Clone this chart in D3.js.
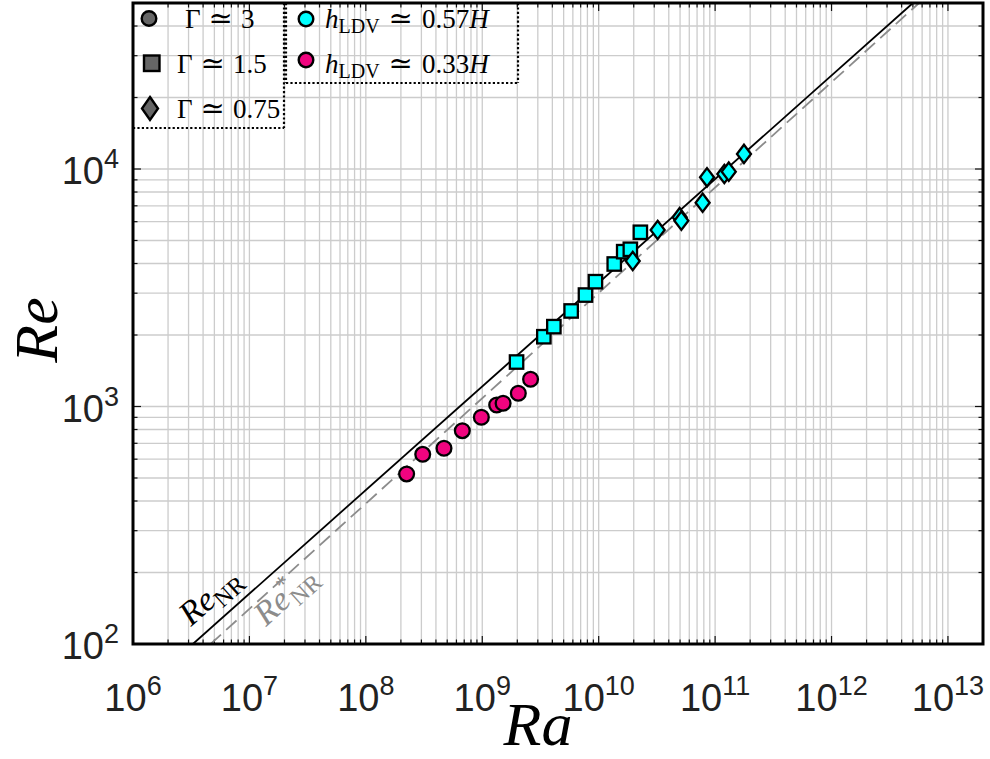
<!DOCTYPE html>
<html>
<head>
<meta charset="utf-8">
<script src="https://cdn.jsdelivr.net/npm/d3@7"></script>
<style>
  body { margin: 0; background: #fff; }
  svg { display: block; }
</style>
</head>
<body>
<svg id="chart" width="990" height="759"></svg>
<script>
// Reynolds number Re versus Rayleigh number Ra (log–log)

// Γ ≃ 3, h_LDV ≃ 0.33H (circles)
const raCircle = [2.24e8, 3.08e8, 4.69e8, 6.74e8, 9.82e8, 1.33e9, 1.51e9, 2.04e9, 2.60e9];
const reCircle = [520, 629, 667, 791, 901, 1015, 1032, 1137, 1302];

// Γ ≃ 1.5, h_LDV ≃ 0.57H (squares)
const raSquare = [1.97e9, 3.38e9, 4.12e9, 5.80e9, 7.70e9, 9.38e9, 1.36e10, 1.64e10, 1.87e10, 2.28e10];
const reSquare = [1539, 1967, 2169, 2525, 2946, 3354, 3981, 4487, 4592, 5415];

// Γ ≃ 0.75, h_LDV ≃ 0.57H (diamonds)
const raDiamond = [1.96e10, 3.21e10, 4.96e10, 5.13e10, 7.81e10, 8.52e10, 1.20e11, 1.31e11, 1.77e11];
const reDiamond = [4099, 5536, 6266, 6058, 7211, 9226, 9528, 9748, 11570];

// reference power laws, given by their end points
const raNR = [3.27e6, 5.0e12];
const reNR = [100, 5e4];
const raNRstar = [4.64e6, 5.65e12];
const reNRstar = [100, 5e4];

// axis limits and labelled ticks
const raLimits = [1e6, 2e13];
const reLimits = [1e2, 5e4];
const raTickExponents = [6, 7, 8, 9, 10, 11, 12, 13];
const reTickExponents = [2, 3, 4];

const PINK = "#f0047f";
const CYAN = "#00ffff";
const GREY = "#666666";

const svg = d3.select("#chart");
const box = { left: 133, right: 983, top: 3, bottom: 644 };

const x = d3.scaleLog().domain(raLimits).range([box.left, box.right]);
const y = d3.scaleLog().domain(reLimits).range([box.bottom, box.top]);

function logTicks(lo, hi) {
  const out = [];
  for (let e = Math.floor(Math.log10(lo)); e <= Math.ceil(Math.log10(hi)); e++) {
    for (let m = 1; m <= 9; m++) {
      const v = m * Math.pow(10, e);
      if (v >= lo * 0.999 && v <= hi * 1.001) out.push({ v, major: m === 1 });
    }
  }
  return out;
}
const xTicks = logTicks(raLimits[0], raLimits[1]);
const yTicks = logTicks(reLimits[0], reLimits[1]);

svg.append("defs").append("clipPath").attr("id", "plotclip")
  .append("rect")
  .attr("x", box.left).attr("y", box.top)
  .attr("width", box.right - box.left).attr("height", box.bottom - box.top);

// grid
const grid = svg.append("g").attr("stroke", "#cccccc").attr("stroke-width", 1.3);
grid.selectAll("line.gx").data(xTicks).join("line")
  .attr("x1", d => x(d.v)).attr("x2", d => x(d.v))
  .attr("y1", box.top).attr("y2", box.bottom);
grid.selectAll("line.gy").data(yTicks).join("line")
  .attr("y1", d => y(d.v)).attr("y2", d => y(d.v))
  .attr("x1", box.left).attr("x2", box.right);

// inward ticks on all four sides
const ticks = svg.append("g").attr("stroke", "#111").attr("stroke-width", 1.2);
xTicks.forEach(t => {
  const L = t.major ? 8 : 4.5;
  ticks.append("line").attr("x1", x(t.v)).attr("x2", x(t.v)).attr("y1", box.bottom).attr("y2", box.bottom - L);
  ticks.append("line").attr("x1", x(t.v)).attr("x2", x(t.v)).attr("y1", box.top).attr("y2", box.top + L);
});
yTicks.forEach(t => {
  const L = t.major ? 8 : 4.5;
  ticks.append("line").attr("y1", y(t.v)).attr("y2", y(t.v)).attr("x1", box.left).attr("x2", box.left + L);
  ticks.append("line").attr("y1", y(t.v)).attr("y2", y(t.v)).attr("x1", box.right).attr("x2", box.right - L);
});

// power-law lines
const lines = svg.append("g").attr("clip-path", "url(#plotclip)").attr("fill", "none");
const lineGen = d3.line().x(d => x(d[0])).y(d => y(d[1]));
lines.append("path")
  .attr("d", lineGen(d3.zip(raNRstar, reNRstar)))
  .attr("stroke", "#8c8c8c").attr("stroke-width", 1.8)
  .attr("stroke-dasharray", "14,7");
lines.append("path")
  .attr("d", lineGen(d3.zip(raNR, reNR)))
  .attr("stroke", "#000").attr("stroke-width", 1.8);

// markers
const marks = svg.append("g").attr("stroke", "#000").attr("stroke-width", 2.3);
marks.selectAll("rect.sq").data(d3.zip(raSquare, reSquare)).join("rect")
  .attr("x", d => x(d[0]) - 6.7).attr("y", d => y(d[1]) - 6.7)
  .attr("width", 13.4).attr("height", 13.4).attr("fill", CYAN);
marks.selectAll("path.dm").data(d3.zip(raDiamond, reDiamond)).join("path")
  .attr("d", d => {
    const cx = x(d[0]), cy = y(d[1]);
    return `M${cx},${cy - 9.2}L${cx + 7},${cy}L${cx},${cy + 9.2}L${cx - 7},${cy}Z`;
  })
  .attr("fill", CYAN);
marks.selectAll("circle.ci").data(d3.zip(raCircle, reCircle)).join("circle")
  .attr("cx", d => x(d[0])).attr("cy", d => y(d[1]))
  .attr("r", 7.4).attr("fill", PINK);

// frame
svg.append("rect")
  .attr("x", box.left).attr("y", box.top)
  .attr("width", box.right - box.left).attr("height", box.bottom - box.top)
  .attr("fill", "none").attr("stroke", "#000").attr("stroke-width", 3);

// tick labels
const SANS = "'Liberation Sans', Arial, Helvetica, sans-serif";
const SERIF = "'Liberation Serif', 'Times New Roman', 'DejaVu Serif', serif";

const xl = svg.append("g").attr("font-family", SANS).attr("fill", "#222");
raTickExponents.forEach(e => {
  const t = xl.append("text")
    .attr("x", x(Math.pow(10, e))).attr("y", 711)
    .attr("text-anchor", "middle").attr("font-size", 38);
  t.append("tspan").text("10");
  t.append("tspan").attr("font-size", 27).attr("dy", -16).text(e);
});
reTickExponents.forEach(e => {
  const t = xl.append("text")
    .attr("x", 119).attr("y", y(Math.pow(10, e)) + 15)
    .attr("text-anchor", "end").attr("font-size", 38);
  t.append("tspan").text("10");
  t.append("tspan").attr("font-size", 27).attr("dy", -16).text(e);
});

// axis titles
svg.append("text")
  .attr("x", 538).attr("y", 745)
  .attr("text-anchor", "middle")
  .attr("font-family", SERIF).attr("font-style", "italic")
  .attr("font-size", 62).text("Ra");
svg.append("text")
  .attr("transform", "translate(57,330) rotate(-90)")
  .attr("text-anchor", "middle")
  .attr("font-family", SERIF).attr("font-style", "italic")
  .attr("font-size", 62).text("Re");

// line labels, set along the lines
function lineLabel(px, py, angle, color, star) {
  const t = svg.append("text")
    .attr("transform", `translate(${px},${py}) rotate(${angle})`)
    .attr("font-family", SERIF).attr("fill", color).attr("font-size", 34);
  t.append("tspan").attr("font-style", "italic").text("Re");
  if (star) {
    t.append("tspan").attr("font-size", 24).attr("dy", -13).text("*");
    t.append("tspan").attr("font-size", 24).attr("dx", -10).attr("dy", 20).text("NR");
  } else {
    t.append("tspan").attr("font-size", 24).attr("dy", 7).text("NR");
  }
}
lineLabel(191, 627, -41.6, "#000", false);
lineLabel(266, 627, -42.1, "#8c8c8c", true);

// legends
const legend = svg.append("g");
const dotted = { stroke: "#000", "stroke-width": 2.2, "stroke-dasharray": "2.2,2.2", fill: "none" };
function dotLine(x1, y1, x2, y2) {
  const l = legend.append("line").attr("x1", x1).attr("y1", y1).attr("x2", x2).attr("y2", y2);
  Object.entries(dotted).forEach(([k, v]) => l.attr(k, v));
}
dotLine(284, box.top, 284, 128);
dotLine(box.left, 128, 284, 128);
dotLine(286, box.top, 286, 83);
dotLine(286, 83, 518, 83);
dotLine(518, box.top, 518, 83);

const lm = legend.append("g").attr("stroke", "#000").attr("stroke-width", 2.4);
lm.append("circle").attr("cx", 149).attr("cy", 18.5).attr("r", 7.3).attr("fill", GREY);
lm.append("rect").attr("x", 144).attr("y", 55.5).attr("width", 15.5).attr("height", 15.5).attr("fill", GREY);
lm.append("path").attr("d", "M150,97 L158,108.5 L150,120 L142,108.5 Z").attr("fill", GREY);
lm.append("circle").attr("cx", 306).attr("cy", 19).attr("r", 7.3).attr("fill", CYAN);
lm.append("circle").attr("cx", 306).attr("cy", 60).attr("r", 7.3).attr("fill", PINK);

function gammaText(px, py, value) {
  const t = legend.append("text").attr("x", px).attr("y", py)
    .attr("font-family", SERIF).attr("font-size", 27).attr("fill", "#000");
  t.append("tspan").text("Γ");
  t.append("tspan").attr("dx", 8).attr("font-size", 29).text("≃");
  t.append("tspan").attr("dx", 8).text(value);
}
gammaText(185, 28, "3");
gammaText(177, 73, "1.5");
gammaText(177, 118, "0.75");

function heightText(px, py, value) {
  const t = legend.append("text").attr("x", px).attr("y", py)
    .attr("font-family", SERIF).attr("font-size", 27).attr("fill", "#000");
  t.append("tspan").attr("font-style", "italic").text("h");
  t.append("tspan").attr("font-size", 20).attr("dy", 5).text("LDV");
  t.append("tspan").attr("dx", 9).attr("dy", -5).attr("font-size", 29).text("≃");
  t.append("tspan").attr("dx", 9).text(value);
  t.append("tspan").attr("font-style", "italic").text("H");
}
heightText(325, 28, "0.57");
heightText(325, 73, "0.33");
</script>
</body>
</html>
